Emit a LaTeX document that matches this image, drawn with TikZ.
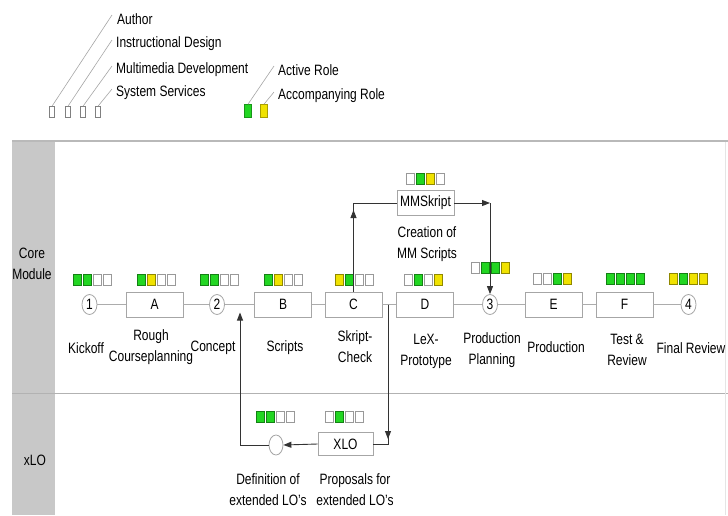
\documentclass[tikz,border=0pt]{standalone}
\usepackage{fontspec}
\setmainfont{Liberation Sans}[FakeStretch=0.8]
\usetikzlibrary{arrows.meta,shapes.geometric,calc}

\definecolor{roleG}{RGB}{34,214,34}
\definecolor{roleY}{RGB}{240,226,0}
\definecolor{roleW}{RGB}{255,255,255}
\definecolor{laneGray}{RGB}{200,200,200}

% four role squares (Author, ID, MM, System) centred at (#2,#3)
\newcommand\rolebar[7]{%
  \foreach \c [count=\i] in {#4,#5,#6,#7}
    \node[rolesq, fill=\c, draw=\c!60!black] (#1-\i) at ({#2+(\i-2.5)*10},#3) {};}

\begin{document}
\begin{tikzpicture}[x=1pt, y=-1pt,
  font=\fontsize{15}{21}\selectfont,
  rolesq/.style={rectangle, minimum width=8pt, minimum height=11pt, inner sep=0pt, line width=0.6pt},
  legsq/.style={rectangle, minimum width=5pt, minimum height=11pt, inner sep=0pt, line width=0.6pt},
  stepbox/.style={rectangle, draw=gray!70, fill=white, minimum width=57pt, minimum height=25pt, inner sep=0pt, line width=0.8pt},
  milestone/.style={ellipse, draw=gray!70, fill=white, minimum width=15pt, minimum height=20pt, inner sep=0pt, line width=0.8pt},
  chainline/.style={draw=gray!65, line width=0.9pt},
  flow/.style={draw=black!80, line width=0.9pt},
  tipped/.style={-{Triangle[length=8pt,width=6pt]}},
  steptext/.style={align=center, inner sep=0pt, text=black},
  legtext/.style={anchor=west, inner sep=0pt, text=black},
  legline/.style={draw=gray!70, line width=0.6pt}]

\useasboundingbox (0,0) rectangle (728,515);
\fill[white] (0,0) rectangle (728,515);

% ---- legend ----
\node[legsq, fill=roleW, draw=gray] (l1) at (52,112) {};
\node[legsq, fill=roleW, draw=gray] (l2) at (68,112) {};
\node[legsq, fill=roleW, draw=gray] (l3) at (83,112) {};
\node[legsq, fill=roleW, draw=gray] (l4) at (98,112) {};
\node[legsq, minimum width=7pt, minimum height=13pt, fill=roleG, draw=roleG!70!black] (lg) at (248,111) {};
\node[legsq, minimum width=7pt, minimum height=13pt, fill=roleY, draw=roleY!70!black] (ly) at (264,111) {};

\node[legtext] (tAuthor) at (117,19) {Author};
\node[legtext] (tID) at (116,44) {Instructional Design};
\node[legtext] (tMM) at (116,70) {Multimedia Development};
\node[legtext] (tSS) at (116,93) {System Services};
\node[legtext] (tAct) at (278,70) {Active Role};
\node[legtext] (tAcc) at (278,96) {Accompanying Role};

\draw[legline] (l1.north) -- ($(tAuthor.west)+(-5,-4)$);
\draw[legline] (l2.north) -- ($(tID.west)+(-4,-4)$);
\draw[legline] (l3.north) -- ($(tMM.west)+(-4,-4)$);
\draw[legline] (l4.north) -- ($(tSS.west)+(-4,-4)$);
\draw[legline] (lg.north) -- ($(tAct.west)+(-4,-4)$);
\draw[legline] (ly.north) -- ($(tAcc.west)+(-4,-4)$);

% ---- swim lanes ----
\fill[laneGray] (12,142) rectangle (55,515);
\draw[gray!55, line width=1.5pt] (12,141) -- (728,141);
\draw[gray!60, line width=0.8pt] (12,393) -- (728,393);
\draw[gray!20] (725,142) -- (725,515);
\node[steptext] (coreLane) at (32,264) {Core\\Module};
\node[steptext] (xloLane) at (35,460) {xLO};

% ---- process chain ----
\node[milestone] (c1) at (89.5,304.5) {1};
\node[stepbox]   (A)  at (154.5,304.5) {A};
\node[milestone] (c2) at (217,304.5) {2};
\node[stepbox]   (B)  at (283,304.5) {B};
\node[stepbox]   (C)  at (353.5,304.5) {C};
\node[stepbox]   (D)  at (425,304.5) {D};
\node[milestone] (c3) at (490,304.5) {3};
\node[stepbox]   (E)  at (553.5,304.5) {E};
\node[stepbox]   (F)  at (624.5,304.5) {F};
\node[milestone] (c4) at (688.5,304.5) {4};

\node[stepbox] (MM) at (425.5,203) {MMSkript};
\node[milestone, minimum width=14pt] (def) at (276,445) {};
\node[stepbox, minimum width=55pt, minimum height=23pt] (XLO) at (345.5,444) {XLO};

\draw[chainline] (c1) -- (A) -- (c2) -- (B) -- (C) -- (D) -- (c3) -- (E) -- (F) -- (c4);

% ---- role squares ----
\rolebar{r1}{92}{280}{roleG}{roleG}{roleW}{roleW}
\rolebar{rA}{156}{280}{roleG}{roleY}{roleW}{roleW}
\rolebar{r2}{219}{280}{roleG}{roleG}{roleW}{roleW}
\rolebar{rB}{283}{280}{roleG}{roleY}{roleW}{roleW}
\rolebar{rC}{354}{280}{roleY}{roleG}{roleW}{roleW}
\rolebar{rD}{423}{280}{roleW}{roleG}{roleW}{roleY}
\rolebar{r3}{490}{268}{roleW}{roleG}{roleG}{roleY}
\rolebar{rE}{552}{279}{roleW}{roleW}{roleG}{roleY}
\rolebar{rF}{625}{279}{roleG}{roleG}{roleG}{roleG}
\rolebar{r4}{688}{279}{roleY}{roleG}{roleY}{roleY}
\rolebar{rMM}{425}{179}{roleW}{roleG}{roleY}{roleW}
\rolebar{rDef}{275}{417}{roleG}{roleG}{roleW}{roleW}
\rolebar{rXLO}{344}{417}{roleW}{roleG}{roleW}{roleW}

% ---- step captions ----
\node[steptext] (kick) at (86,348) {Kickoff};
\node[steptext] (rough) at (151,347) {Rough\\Courseplanning};
\node[steptext] (conc) at (213,348) {Concept};
\node[steptext] (scr) at (285,348) {Scripts};
\node[steptext] (chk) at (355,347) {Skript-\\Check};
\node[steptext] (lex) at (426,351) {LeX-\\Prototype};
\node[steptext] (pplan) at (492,350) {Production\\Planning};
\node[steptext] (prod) at (556,347) {Production};
\node[steptext] (test) at (627,350) {Test \&\\Review};
\node[steptext] (fin) at (691,348) {Final Review};
\node[steptext] (crea) at (427,244) {Creation of\\MM Scripts};
\node[steptext] (defl) at (268,490) {Definition of\\extended LO's};
\node[steptext] (prop) at (355,490) {Proposals for\\extended LO's};

% ---- flows ----
% C up to the MM script step
\coordinate (cbend) at (C.north |- MM.west);
\draw[flow] (C.north) -- (cbend) -- (MM.west);
\draw[flow, tipped] (C.north) -- ($(cbend)+(0,7)$);

% MM script step down into milestone 3
\coordinate (mbend) at (c3.north |- MM.east);
\draw[flow, tipped] (MM.east) -- (mbend);
\draw[flow, tipped] (mbend) -- (c3.north);

% branch from C--D into the xLO lane
\coordinate (cdj) at (388,304.5);
\coordinate (xbend) at (cdj |- XLO.east);
\draw[flow] (cdj) -- (xbend) -- (XLO.east);
\draw[flow, tipped] (cdj) -- ($(xbend)+(0,-5)$);

% XLO proposals to definition
\draw[flow, tipped] (XLO.west) -- (def.east);

% definition back into the chain between 2 and B
\coordinate (dj) at (240,304.5);
\coordinate (dbend) at (dj |- def.west);
\draw[flow, tipped] (def.west) -- (dbend) -- ($(dj)+(0,8)$);

\end{tikzpicture}
\end{document}
